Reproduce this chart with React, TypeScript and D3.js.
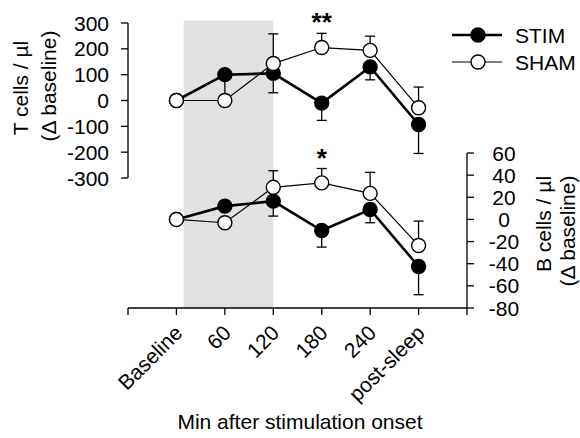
import React from "react";
import * as d3 from "d3";

// Time points after stimulation onset
const categories = ["Baseline", "60", "120", "180", "240", "post-sleep"];

// T cells / µl, change from baseline
const tStim = [0, 100, 105, -10, 130, -93];
const tStimErr = [0, 80, 75, 67, 50, 112];
const tSham = [0, 0, 143, 205, 194, -28];
const tShamErr = [0, 0, 115, 55, 55, 80];

// B cells / µl, change from baseline
const bStim = [0, 12, 16.5, -10, 9, -42.5];
const bStimErr = [0, 0, 13.5, 15, 12, 25.5];
const bSham = [0, -3, 29, 33, 23.5, -23.5];
const bShamErr = [0, 0, 15, 13, 19, 22];

const tTicks = [300, 200, 100, 0, -100, -200, -300];
const bTicks = [60, 40, 20, 0, -20, -40, -60, -80];

// Stimulation window on the x scale (axis runs 0..7, categories sit at 1..6)
const shadeStart = 1.15;
const shadeEnd = 3;

const FONT = "'Liberation Sans', Arial, sans-serif";
const FS = 21;

export default function App() {
  const x = d3.scaleLinear().domain([0, 7]).range([128, 467]);
  const yT = d3.scaleLinear().domain([-300, 300]).range([178, 23]);
  const yB = d3.scaleLinear().domain([-80, 60]).range([308, 153]);
  const axisY = yB(-80);

  const xi = (i: number) => x(i + 1);

  const lineT = d3
    .line<number>()
    .x((_, i) => xi(i))
    .y((d) => yT(d));
  const lineB = d3
    .line<number>()
    .x((_, i) => xi(i))
    .y((d) => yB(d));

  const errBars = (
    vals: number[],
    errs: number[],
    y: d3.ScaleLinear<number, number>,
    dir: number,
    key: string
  ) =>
    vals.map((v, i) =>
      errs[i] > 0 ? (
        <g key={key + i} stroke="#000" strokeWidth={1.3}>
          <line x1={xi(i)} x2={xi(i)} y1={y(v)} y2={y(v + dir * errs[i])} />
          <line
            x1={xi(i) - 5}
            x2={xi(i) + 5}
            y1={y(v + dir * errs[i])}
            y2={y(v + dir * errs[i])}
          />
        </g>
      ) : null
    );

  const markers = (
    vals: number[],
    y: d3.ScaleLinear<number, number>,
    fill: string,
    key: string
  ) =>
    vals.map((v, i) => (
      <circle
        key={key + i}
        cx={xi(i)}
        cy={y(v)}
        r={7}
        fill={fill}
        stroke="#000"
        strokeWidth={1.4}
      />
    ));

  const shadeTop = yT(310);

  return (
    <svg
      width={580}
      height={438}
      style={{ position: "absolute", left: 0, top: 0, background: "#fff" }}
      fontFamily={FONT}
    >
      {/* stimulation period */}
      <rect
        x={x(shadeStart)}
        y={shadeTop}
        width={x(shadeEnd) - x(shadeStart)}
        height={axisY - shadeTop}
        fill="#e2e2e2"
      />

      {/* left axis: T cells */}
      <g stroke="#000" strokeWidth={1.3}>
        <line x1={128} x2={128} y1={yT(300)} y2={yT(-300)} />
        {tTicks.map((t) => (
          <line key={"tt" + t} x1={121} x2={128} y1={yT(t)} y2={yT(t)} />
        ))}
      </g>
      {tTicks.map((t) => (
        <text
          key={"tl" + t}
          x={109}
          y={yT(t)}
          dy="0.36em"
          textAnchor="end"
          fontSize={FS}
        >
          {t}
        </text>
      ))}
      <text
        transform={`translate(28,88) rotate(-90)`}
        textAnchor="middle"
        fontSize={FS}
      >
        T cells / µl
      </text>
      <text
        transform={`translate(56,86) rotate(-90)`}
        textAnchor="middle"
        fontSize={FS}
      >
        (Δ baseline)
      </text>

      {/* right axis: B cells */}
      <g stroke="#000" strokeWidth={1.3}>
        <line x1={467} x2={467} y1={yB(60)} y2={yB(-80)} />
        {bTicks.map((t) => (
          <line key={"bt" + t} x1={467} x2={474} y1={yB(t)} y2={yB(t)} />
        ))}
      </g>
      {bTicks.map((t) => (
        <text
          key={"bl" + t}
          x={504}
          y={yB(t)}
          dy="0.36em"
          textAnchor="middle"
          fontSize={FS}
        >
          {t}
        </text>
      ))}
      <text
        transform={`translate(551,224) rotate(-90)`}
        textAnchor="middle"
        fontSize={FS}
      >
        B cells / µl
      </text>
      <text
        transform={`translate(575,231) rotate(-90)`}
        textAnchor="middle"
        fontSize={FS}
      >
        (Δ baseline)
      </text>

      {/* x axis */}
      <g stroke="#000" strokeWidth={1.3}>
        <line x1={x(0)} x2={x(7)} y1={axisY} y2={axisY} />
        {d3.range(0, 8).map((i) => (
          <line key={"xt" + i} x1={x(i)} x2={x(i)} y1={axisY} y2={axisY + 7} />
        ))}
      </g>
      {categories.map((c, i) => (
        <text
          key={"xl" + c}
          transform={`translate(${xi(i) + 2},329) rotate(-45)`}
          textAnchor="end"
          dy="0.36em"
          fontSize={FS}
        >
          {c}
        </text>
      ))}
      <text x={300} y={429} textAnchor="middle" fontSize={FS}>
        Min after stimulation onset
      </text>

      {/* connecting lines */}
      <path d={lineT(tSham) ?? ""} fill="none" stroke="#000" strokeWidth={1.2} />
      <path d={lineT(tStim) ?? ""} fill="none" stroke="#000" strokeWidth={2.6} />
      <path d={lineB(bSham) ?? ""} fill="none" stroke="#000" strokeWidth={1.2} />
      <path d={lineB(bStim) ?? ""} fill="none" stroke="#000" strokeWidth={2.6} />

      {/* error bars */}
      {errBars(tSham, tShamErr, yT, 1, "tse")}
      {errBars(tStim, tStimErr, yT, -1, "tte")}
      {errBars(bSham, bShamErr, yB, 1, "bse")}
      {errBars(bStim, bStimErr, yB, -1, "bte")}

      {/* markers */}
      {markers(tStim, yT, "#000", "tsm")}
      {markers(tSham, yT, "#fff", "thm")}
      {markers(bStim, yB, "#000", "bsm")}
      {markers(bSham, yB, "#fff", "bhm")}

      {/* significance */}
      <text x={xi(3)} y={31} textAnchor="middle" fontSize={26} fontWeight="bold">
        **
      </text>
      <text x={xi(3)} y={167} textAnchor="middle" fontSize={26} fontWeight="bold">
        *
      </text>

      {/* legend */}
      <line x1={452} x2={502} y1={35} y2={35} stroke="#000" strokeWidth={2.6} />
      <circle cx={478} cy={35} r={7} fill="#000" stroke="#000" strokeWidth={1.4} />
      <text x={515} y={35} dy="0.36em" fontSize={FS}>
        STIM
      </text>
      <line x1={452} x2={502} y1={62} y2={62} stroke="#000" strokeWidth={1.2} />
      <circle cx={478} cy={62} r={7} fill="#fff" stroke="#000" strokeWidth={1.4} />
      <text x={515} y={62} dy="0.36em" fontSize={FS}>
        SHAM
      </text>
    </svg>
  );
}
